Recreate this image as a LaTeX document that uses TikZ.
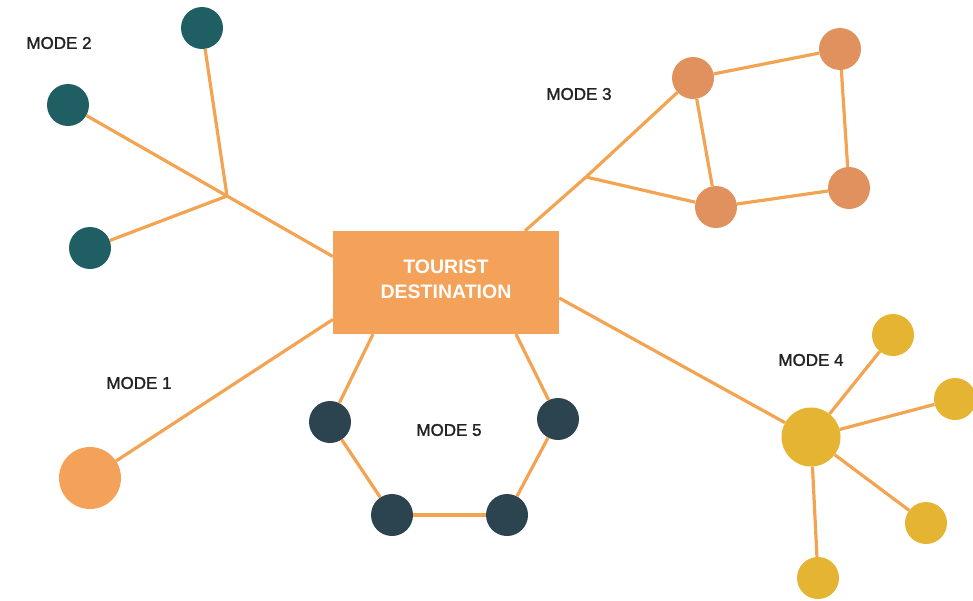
\documentclass[tikz,border=0pt]{standalone}
\usepackage{fontspec}
\setmainfont{Liberation Sans}
\newfontfamily\labelfont{Liberation Sans}[FakeBold=1.4]
\definecolor{linkc}{HTML}{F3A452}
\definecolor{hubc}{HTML}{F4A259}
\definecolor{tealc}{HTML}{1F5F63}
\definecolor{salmonc}{HTML}{E0915D}
\definecolor{goldc}{HTML}{E6B433}
\definecolor{slatec}{HTML}{2C4450}
\definecolor{inkc}{HTML}{222222}
\begin{document}
\begin{tikzpicture}[x=1pt,y=-1pt,
  dot/.style={circle,inner sep=0pt,minimum size=42pt,fill=#1},
  bigdot/.style={circle,inner sep=0pt,minimum size=#1},
  link/.style={draw=linkc,line width=3.2pt},
  modelabel/.style={text=inkc,font=\labelfont\fontsize{17}{19}\selectfont,inner sep=0pt},
  hub/.style={fill=hubc,minimum width=226pt,minimum height=103pt,inner sep=0pt}]
\useasboundingbox (0,0) rectangle (973,600);

% connector end points on the hub are taken from this node
\node[hub] (r) at (446,282.5) {};

% mode 2 nodes
\node[dot=tealc] (a1) at (202,28) {};
\node[dot=tealc] (a2) at (68,105) {};
\node[dot=tealc] (a3) at (90,248) {};
\coordinate (ja) at (227,196);

% mode 3 nodes
\node[dot=salmonc] (b1) at (693,78) {};
\node[dot=salmonc] (b2) at (840,49) {};
\node[dot=salmonc] (b3) at (849,188) {};
\node[dot=salmonc] (b4) at (716,207) {};
\coordinate (jb) at (586,177);

% mode 4 nodes
\node[dot=goldc,bigdot=59pt] (c0) at (811,437) {};
\node[dot=goldc] (c1) at (893,335) {};
\node[dot=goldc] (c2) at (955,399) {};
\node[dot=goldc] (c3) at (926,523) {};
\node[dot=goldc] (c4) at (818,578) {};

% mode 1 node
\node[dot=hubc,bigdot=62pt] (d0) at (90,478) {};

% mode 5 nodes
\node[dot=slatec] (e1) at (330,422) {};
\node[dot=slatec] (e2) at (558,419) {};
\node[dot=slatec] (e3) at (392,515) {};
\node[dot=slatec] (e4) at (507,515) {};

% connectors
\draw[link] (a1) -- (ja);
\draw[link] (a2) -- (ja);
\draw[link] (a3) -- (ja);
\draw[link] (ja) -- ([yshift=26pt]r.west);

\draw[link] ([xshift=79pt]r.north) -- (jb) -- (b1);
\draw[link] (jb) -- (b4);
\draw[link] (b1) -- (b2);
\draw[link] (b2) -- (b3);
\draw[link] (b3) -- (b4);
\draw[link] (b1) -- (b4);

\draw[link] ([yshift=-15.5pt]r.east) -- (c0);
\draw[link] (c0) -- (c1);
\draw[link] (c0) -- (c2);
\draw[link] (c0) -- (c3);
\draw[link] (c0) -- (c4);

\draw[link] ([yshift=-37pt]r.west) -- (d0);

\draw[link] ([xshift=-73pt]r.south) -- (e1);
\draw[link] ([xshift=70pt]r.south) -- (e2);
\draw[link] (e1) -- (e3);
\draw[link] (e3) -- (e4);
\draw[link] (e4) -- (e2);

% hub caption
\node[text=white,align=center,inner sep=0pt,
  font=\bfseries\fontsize{19.5}{25}\selectfont] (rt) at (446,279.5) {TOURIST\\DESTINATION};

% labels
\node[modelabel] (l2) at (59,43) {MODE 2};
\node[modelabel] (l3) at (579,94) {MODE 3};
\node[modelabel] (l1) at (139,383) {MODE 1};
\node[modelabel] (l5) at (449,430) {MODE 5};
\node[modelabel] (l4) at (811,360) {MODE 4};
\end{tikzpicture}
\end{document}
